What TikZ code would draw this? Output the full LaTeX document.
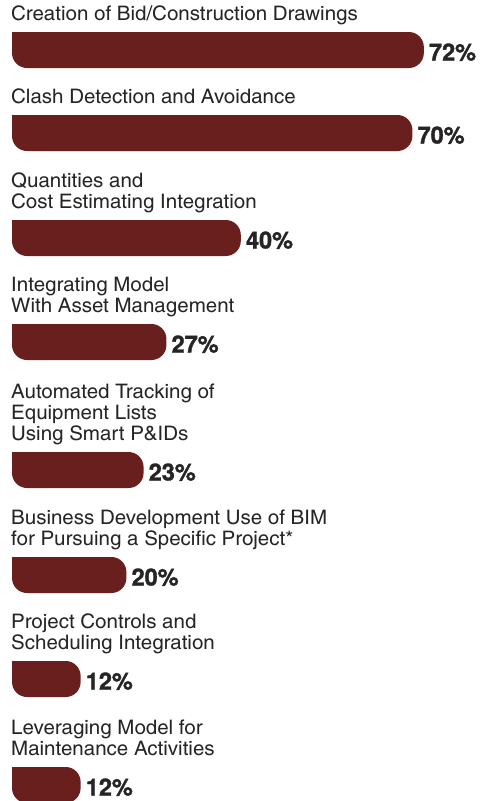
\documentclass[tikz,border=0pt]{standalone}
\usepackage{fontspec}
\usetikzlibrary{calc}
\setmainfont[FakeStretch=1.25]{texgyreheroscn-regular.otf}
\newfontfamily\pctfont[FakeBold=1.4]{texgyreheros-bold.otf}
\definecolor{barred}{RGB}{106,31,31}
\definecolor{txtgray}{RGB}{38,36,37}
\tikzset{
    bar/.style={fill=barred},
    lbl/.style={anchor=south west, inner sep=0pt, text depth=0pt, align=left,
        font=\fontsize{20}{21}\selectfont, text=txtgray},
    pct/.style={anchor=base west, inner sep=0pt,
        font=\pctfont\fontsize{23.5}{24}\selectfont, text=txtgray}
}
\begin{document}
\begin{tikzpicture}[x=1pt,y=-1pt]
        \useasboundingbox (0,0) rectangle (483,801);
        \node[lbl] (l1) at (11,21) {Creation of Bid/Construction Drawings};
        \node[lbl] (l2) at (11,104) {Clash Detection and Avoidance};
        \node[lbl] (l3) at (11,209) {Quantities and\\Cost Estimating Integration};
        \node[lbl] (l4) at (11,313) {Integrating Model\\With Asset Management};
        \node[lbl] (l5) at (11,441) {Automated Tracking of\\Equipment Lists\\Using Smart P\&IDs};
        \node[lbl] (l6) at (11,546) {Business Development Use of BIM\\for Pursuing a Specific Project*};
        \node[lbl] (l7) at (11,650) {Project Controls and\\Scheduling Integration};
        \node[lbl] (l8) at (11,756) {Leveraging Model for\\Maintenance Activities};
        \foreach \n/\top/\val in {1/32/72, 2/115/70, 3/220/40, 4/324/27, 5/452/23, 6/557/20, 7/661/12, 8/767/12} {
            \coordinate (e\n) at ({12+5.72*\val},\top);
            \fill[bar] (12,\top) [rounded corners=15pt] -- (e\n) -- ($(e\n)+(0,36)$) -- (12,\top+36) [sharp corners] -- cycle;
            \node[pct] (p\n) at ($(e\n)+(5,28.5)$) {\val\%};
        }
\end{tikzpicture}
\end{document}
